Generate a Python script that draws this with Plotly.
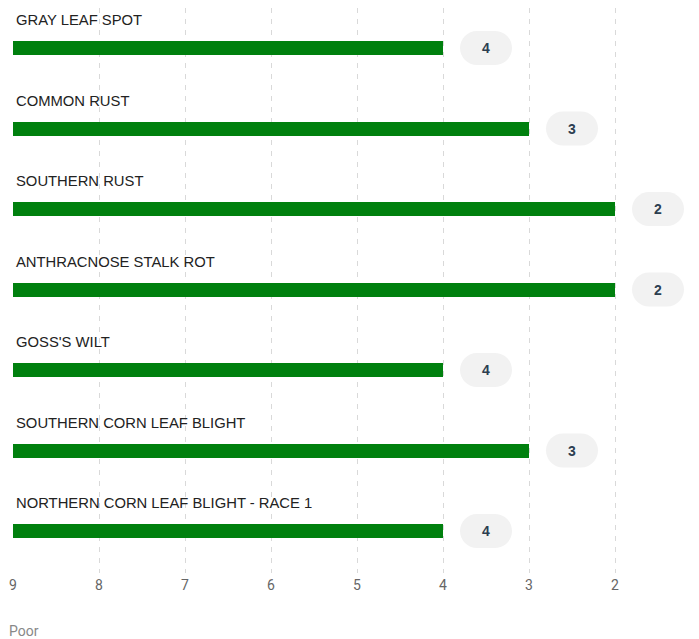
import plotly.graph_objects as go

categories = [
    "GRAY LEAF SPOT",
    "COMMON RUST",
    "SOUTHERN RUST",
    "ANTHRACNOSE STALK ROT",
    "GOSS'S WILT",
    "SOUTHERN CORN LEAF BLIGHT",
    "NORTHERN CORN LEAF BLIGHT - RACE 1",
]
scores = [4, 3, 2, 2, 4, 3, 4]
tick_vals = [9, 8, 7, 6, 5, 4, 3, 2]
edge_tick = 1
scale_start = 9
low_label = "Poor"

W, H = 691, 631
ML, MT, MB = 5, 0, 66
px_per_unit = 86.0
row_px = 80.5
first_row_px = 40

plot_w = W - ML
plot_h = H - MT - MB
x_right = scale_start - plot_w / px_per_unit
y_top = -first_row_px / row_px
y_bot = (plot_h - first_row_px) / row_px

idx = list(range(len(categories)))

fig = go.Figure()
fig.add_trace(go.Bar(
    y=idx,
    x=[s - scale_start for s in scores],
    base=[scale_start] * len(scores),
    orientation="h",
    width=14 / row_px,
    marker=dict(color="#00800e", line=dict(width=0)),
    hoverinfo="skip",
    showlegend=False,
))

shapes = []
annotations = []
k = 0.5523
r = 17
half = 9
off = 43
for i, (c, s) in enumerate(zip(categories, scores)):
    x0 = off - half
    x1 = off + half
    path = (
        f"M {x0},{-r} L {x1},{-r} "
        f"C {x1 + k*r},{-r} {x1 + r},{-k*r} {x1 + r},0 "
        f"C {x1 + r},{k*r} {x1 + k*r},{r} {x1},{r} "
        f"L {x0},{r} "
        f"C {x0 - k*r},{r} {x0 - r},{k*r} {x0 - r},0 "
        f"C {x0 - r},{-k*r} {x0 - k*r},{-r} {x0},{-r} Z"
    )
    shapes.append(dict(
        type="path", xref="x", yref="y",
        xsizemode="pixel", ysizemode="pixel",
        xanchor=s, yanchor=i, path=path,
        fillcolor="#f2f2f2", line=dict(width=0), layer="below",
    ))
    annotations.append(dict(
        x=s, y=i, xref="x", yref="y", xshift=off, text=f"<b>{s}</b>",
        showarrow=False, font=dict(family="Liberation Sans, Arial", size=14, color="#2c3e50"),
        xanchor="center", yanchor="middle",
    ))
    annotations.append(dict(
        x=0, y=i, xref="paper", yref="y", xshift=1, yshift=28, text=c,
        showarrow=False, font=dict(family="Liberation Sans, Arial", size=14.8, color="#222222"),
        xanchor="left", yanchor="middle",
    ))

# tick label "1" sits just past the right edge of the visible plot
edge_paper = (scale_start - edge_tick) / (scale_start - x_right)
annotations.append(dict(
    x=edge_paper, y=0, xref="paper", yref="paper", yshift=-12, text=str(edge_tick),
    showarrow=False, font=dict(family="Roboto", size=14, color="#666666"),
    xanchor="center", yanchor="middle",
))
annotations.append(dict(
    x=0, y=0, xref="paper", yref="paper", xshift=-6, yshift=-58, text=low_label,
    showarrow=False, font=dict(family="Roboto", size=14, color="#888888"),
    xanchor="left", yanchor="middle",
))

fig.update_layout(
    width=W, height=H,
    margin=dict(l=ML, r=0, t=MT, b=MB),
    paper_bgcolor="white", plot_bgcolor="white",
    shapes=shapes, annotations=annotations,
    xaxis=dict(
        range=[scale_start, x_right],
        tickvals=tick_vals,
        ticktext=[str(t) for t in tick_vals],
        showgrid=True, gridcolor="#d9d9d9", gridwidth=1, griddash="5px,6px",
        zeroline=False, showline=False, ticks="",
        tickfont=dict(family="Roboto", size=14, color="#666666"),
        ticklabelstandoff=2,
        fixedrange=True,
    ),
    yaxis=dict(
        range=[y_bot, y_top], showgrid=False, zeroline=False,
        showticklabels=False, ticks="", fixedrange=True,
    ),
    bargap=0,
)

fig.write_html("out.html", config={"displayModeBar": False})
